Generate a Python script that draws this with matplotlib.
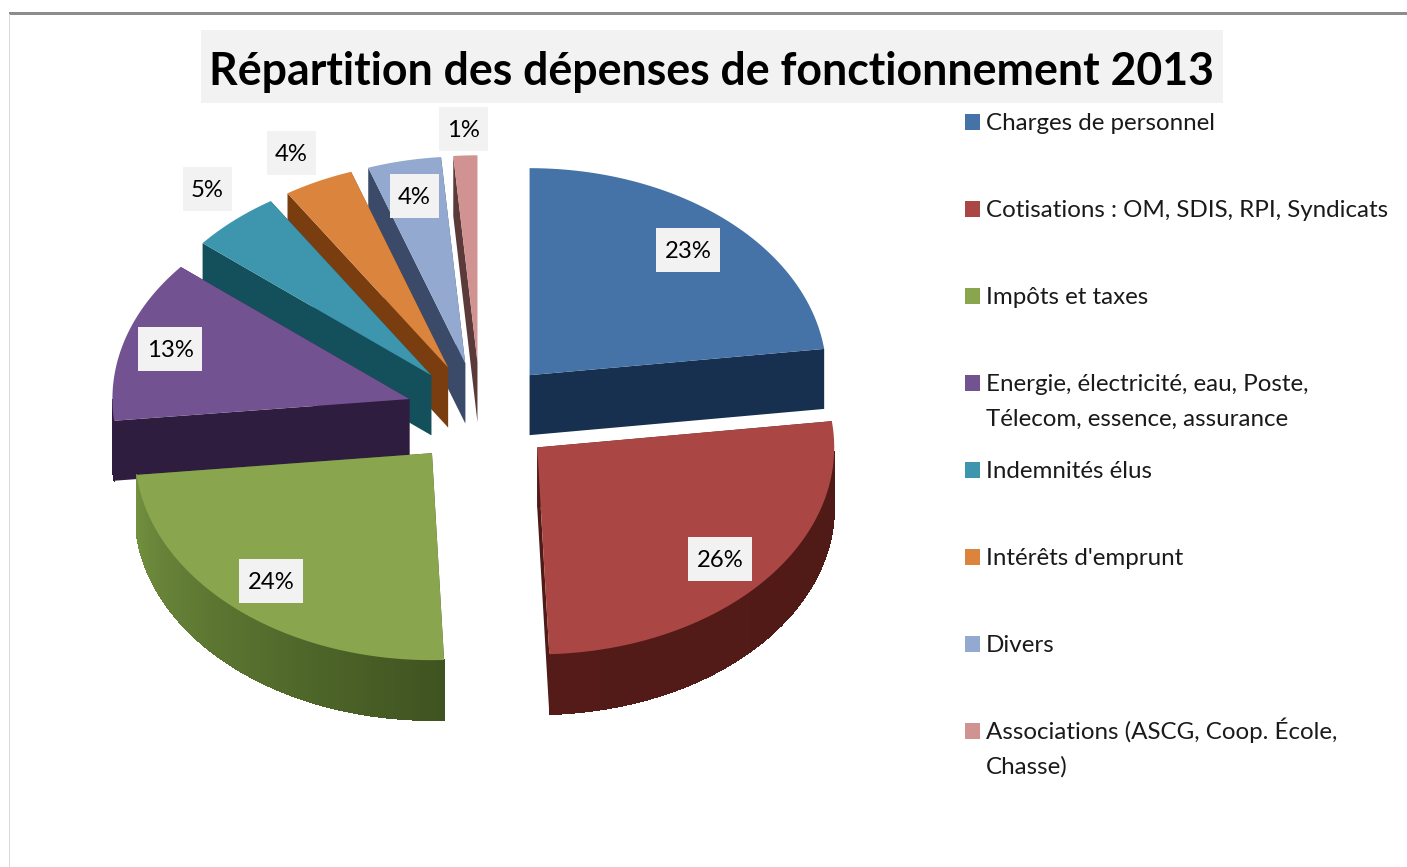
# -*- coding: utf-8 -*-
import numpy as np
import matplotlib
matplotlib.use("Agg")
import matplotlib.pyplot as plt
from matplotlib.patches import Polygon, Rectangle
from matplotlib.collections import PolyCollection
from matplotlib.colors import to_rgb

# --- Data ---
TITLE = "Répartition des dépenses de fonctionnement 2013"
categories = [
    "Charges de personnel",
    "Cotisations : OM, SDIS, RPI, Syndicats",
    "Impôts et taxes",
    "Energie, électricité, eau, Poste,\nTélecom, essence, assurance",
    "Indemnités élus",
    "Intérêts d'emprunt",
    "Divers",
    "Associations (ASCG, Coop. École,\nChasse)",
]
# labels show them rounded
values = [23, 26.4, 24.0, 12.7, 4.9, 3.8, 4, 1.3]

# --- Styles ---
top_colors = ["#4572A7", "#AA4643", "#89A54E", "#735291", "#3D96AE", "#DB843D", "#93A9CF", "#D19392"]
side_colors = ["#17304F", "#4F1A17", "#3F5320", "#2E1D3E", "#14505C", "#7A3D10", "#3A4A68", "#5D3A3A"]
rim_light = ["#17304F", "#541B18", "#72903F", "#2E1D3E", "#14505C", "#7A3D10", "#3A4A68", "#5D3A3A"]
label_pos = [(688, 250), (720, 559), (271, 581), (170, 349), (207, 189), (291, 153), (414, 196), (463, 129)]
# back to front
draw_order = [7, 6, 5, 4, 3, 0, 2, 1]

CX, CY = 480.5, 414
RX, RY = 297, 207
DEPTH = 60
EXPLODE = 0.25
BOX = "#F2F2F2"
FONT = "Lato"

fig = plt.figure(figsize=(14.07, 8.67), dpi=100)
ax = fig.add_axes([0, 0, 1, 1])
ax.set_xlim(0, 1407)
ax.set_ylim(867, 0)
ax.axis("off")

# page frame
ax.add_patch(Rectangle((9, 12), 1398, 2.5, color="#8C8C8C", lw=0))
ax.add_patch(Rectangle((9, 14), 1.2, 853, color="#DADADA", lw=0))

# title
ax.add_patch(Rectangle((201, 30), 1022, 73, color=BOX, lw=0))
ax.text(711.5, 85, TITLE, fontsize=32.1, fontweight="bold", family=FONT,
        ha="center", va="baseline", color="black")


def ell(t):
    return np.array([RX * np.cos(t), -RY * np.sin(t)]).T


# --- Pie: clockwise from the top, angles measured on the ellipse ---
ends = 90 - 360 * np.cumsum(values) / sum(values)
starts = np.r_[90, ends[:-1]]

for i in draw_order:
    t0, t1 = np.radians(starts[i]), np.radians(ends[i])
    mid = (t0 + t1) / 2
    apex = np.array([CX, CY]) + EXPLODE * ell(mid)
    ts = np.linspace(t0, t1, 80)
    arc = apex + ell(ts)
    down = np.array([0, DEPTH])

    # two cut faces
    for p in (arc[0], arc[-1]):
        ax.add_patch(Polygon([apex, p, p + down, apex + down], facecolor=side_colors[i], lw=0))

    # outer rim, only the front part shows, shaded along the arc
    front = [k for k in range(len(arc) - 1) if np.sin(ts[k]) < 0 and np.sin(ts[k + 1]) < 0]
    if front:
        quads = [[arc[k], arc[k + 1], arc[k + 1] + down, arc[k] + down] for k in front]
        c0, c1 = np.array(to_rgb(side_colors[i])), np.array(to_rgb(rim_light[i]))
        mix = np.linspace(0, 1, len(quads))[:, None]
        shades = c0 * (1 - mix) + c1 * mix
        ax.add_collection(PolyCollection(quads, facecolors=shades, edgecolors=shades,
                                         linewidths=0.4, antialiaseds=False))

    # top face
    ax.add_patch(Polygon(np.vstack([apex, arc]), facecolor=top_colors[i], lw=0))

# --- Value labels ---
for v, (x, y) in zip(values, label_pos):
    txt = f"{round(v)}%"
    w = 64 if v >= 9.5 else 49
    ax.add_patch(Rectangle((x - w / 2, y - 22), w, 44, color=BOX, lw=0, zorder=5))
    ax.text(x, y + 8, txt, fontsize=17.2, family=FONT, ha="center", va="baseline", color="black", zorder=6)

# --- Legend ---
for i, name in enumerate(categories):
    y = 122 + 87 * i
    ax.add_patch(Rectangle((965, y - 8), 15, 16, color=top_colors[i], lw=0))
    for j, line in enumerate(name.split("\n")):
        ax.text(986, y + 8 + 35 * j, line, fontsize=17.4, family=FONT, ha="left", va="baseline", color="#1A1A1A")

fig.savefig("out.png", dpi=100, facecolor="white")
plt.close(fig)
